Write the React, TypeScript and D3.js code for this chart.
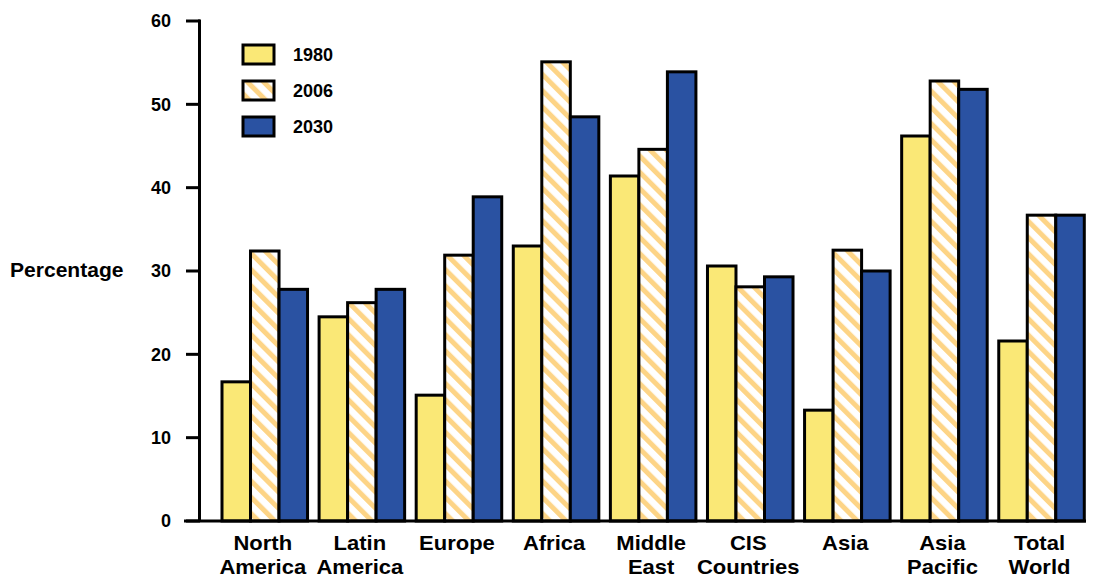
import React from "react";
import * as d3 from "d3";

const categories = [
  ["North", "America"],
  ["Latin", "America"],
  ["Europe"],
  ["Africa"],
  ["Middle", "East"],
  ["CIS", "Countries"],
  ["Asia"],
  ["Asia", "Pacific"],
  ["Total", "World"],
];
const seriesNames = ["1980", "2006", "2030"];
const values1980 = [16.7, 24.5, 15.1, 33.0, 41.4, 30.6, 13.3, 46.2, 21.6];
const values2006 = [32.4, 26.2, 31.9, 55.1, 44.6, 28.1, 32.5, 52.8, 36.7];
const values2030 = [27.8, 27.8, 38.9, 48.5, 53.9, 29.3, 30.0, 51.8, 36.7];
const yTicks = [0, 10, 20, 30, 40, 50, 60];

export default function App() {
  const W = 1095, H = 580;
  const font = "'Liberation Sans', Arial, sans-serif";
  const keys = categories.map((c) => c.join(" "));
  const y = d3.scaleLinear().domain([0, 60]).range([521, 21]);
  const x = d3.scaleBand().domain(keys).range([222, 1084.3]).paddingInner(0.119).paddingOuter(0);
  const xs = d3.scaleBand().domain(seriesNames).range([0, x.bandwidth()]);
  const series = [values1980, values2006, values2030];
  const fills = ["#FAE876", "url(#hatch)", "#2A52A2"];

  return (
    <svg width={W} height={H} style={{ position: "absolute", left: 0, top: 0, background: "#fff" }}>
      <defs>
        <pattern id="hatch" patternUnits="userSpaceOnUse" width="11.5" height="11.5" patternTransform="rotate(-45)">
          <rect width="11.5" height="11.5" fill="#fff" />
          <rect x="0" y="0" width="5" height="11.5" fill="#FDD486" />
        </pattern>
      </defs>
      {keys.map((k, i) => (
        <g key={k} transform={`translate(${x(k)},0)`}>
          {series.map((vals, s) => (
            <rect
              key={s}
              x={xs(seriesNames[s])}
              y={y(vals[i])}
              width={xs.bandwidth()}
              height={y(0) - y(vals[i])}
              fill={fills[s]}
              stroke="#000"
              strokeWidth={3}
            />
          ))}
        </g>
      ))}
      <line x1={199.5} x2={199.5} y1={19.5} y2={522} stroke="#000" strokeWidth={3} />
      <line x1={184} x2={1086} y1={521} y2={521} stroke="#000" strokeWidth={3} />
      {yTicks.map((t) => (
        <g key={t}>
          <line x1={186} x2={200} y1={y(t)} y2={y(t)} stroke="#000" strokeWidth={3} />
          <text x={171} y={y(t)} dy="0.35em" textAnchor="end" fontFamily={font} fontWeight="bold" fontSize={18}>
            {t}
          </text>
        </g>
      ))}
      <g transform="translate(10,270) scale(1.08,1)">
        <text x={0} y={0} dy="0.35em" fontFamily={font} fontWeight="bold" fontSize={19.5}>
          Percentage
        </text>
      </g>
      {categories.map((c, i) => (
        <g key={i} transform={`translate(${(x(keys[i]) as number) + x.bandwidth() / 2 - 2},0) scale(1.1,1)`}>
          <text textAnchor="middle" fontFamily={font} fontWeight="bold" fontSize={20}>
            {c.map((line, j) => (
              <tspan key={j} x={0} y={550 + j * 24.5}>
                {line}
              </tspan>
            ))}
          </text>
        </g>
      ))}
      {seriesNames.map((n, s) => (
        <g key={n} transform={`translate(243,${45 + s * 36})`}>
          <rect width={31} height={19} fill={fills[s]} stroke="#000" strokeWidth={3} />
          <text x={50} y={9.5} dy="0.36em" fontFamily={font} fontWeight="bold" fontSize={18}>
            {n}
          </text>
        </g>
      ))}
    </svg>
  );
}
